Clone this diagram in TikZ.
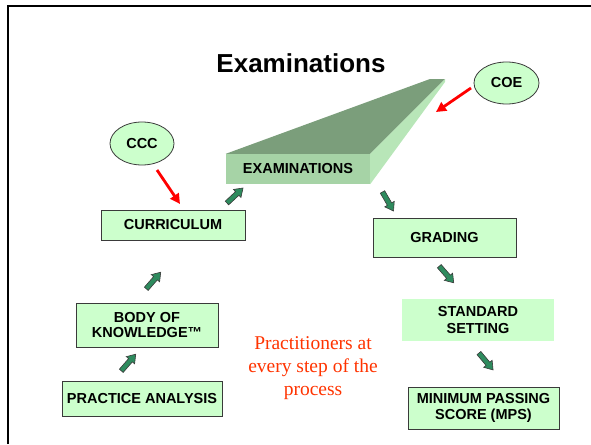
\documentclass[tikz,border=0pt]{standalone}
\usepackage{fontspec}
\setmainfont{Liberation Serif}
\setsansfont{Liberation Sans}
\usetikzlibrary{arrows.meta,shapes.geometric}
\definecolor{boxgreen}{HTML}{CCFFCC}
\definecolor{frontgreen}{HTML}{A6D3A6}
\definecolor{topgreen}{HTML}{7B9E7B}
\definecolor{sidegreen}{HTML}{B8E6B8}
\definecolor{arrowgreen}{HTML}{2E8B5E}
\definecolor{edgegray}{HTML}{3A3A3A}
\definecolor{redtext}{HTML}{FF3300}
\tikzset{
  lbl/.style={font=\sffamily\bfseries\fontsize{14.5}{16.5}\selectfont, align=center, inner sep=0pt},
  greenbox/.style={lbl, rectangle, fill=boxgreen, draw=edgegray, line width=0.8pt},
  plainbox/.style={lbl, rectangle, fill=boxgreen},
  oval/.style={lbl, ellipse, fill=boxgreen, draw=edgegray, line width=0.8pt},
  redarr/.style={draw=red, line width=2.8pt, -{Triangle[length=10pt,width=10pt]}},
  blockarr/.pic={
    \draw[fill=arrowgreen, draw=edgegray, line width=0.6pt, line join=miter]
      (-11,-2.5) -- (3,-2.5) -- (3,-5.5) -- (11,0) -- (3,5.5) -- (3,2.5) -- (-11,2.5) -- cycle;
  }
}
\begin{document}
\begin{tikzpicture}[x=1pt,y=-1pt]
\useasboundingbox (0,0) rectangle (591,444);
% frame
\draw[line width=2.3pt] (8,444) -- (8,6) -- (591,6);
% title
\node[font=\sffamily\bfseries\fontsize{26}{30}\selectfont, anchor=base, inner sep=0pt] (title) at (301,73) {Examinations};
% 3D block
\node[lbl, fill=frontgreen, minimum width=144pt, minimum height=30pt] (exam) at (298,169) {EXAMINATIONS};
\coordinate (backtl) at (430,79);
\coordinate (backtr) at (445,79);
\coordinate (backbr) at (445,82);
\fill[topgreen] (exam.north west) -- (exam.north east) -- (backtr) -- (backtl) -- cycle;
\fill[sidegreen] (exam.north east) -- (backtr) -- (backbr) -- (exam.south east) -- cycle;
% ovals
\node[oval, minimum width=64pt, minimum height=43pt] (ccc) at (142,143.5) {CCC};
\node[oval, minimum width=65pt, minimum height=42pt] (coe) at (506.5,83) {COE};
% boxes
\node[greenbox, minimum width=144pt, minimum height=30pt] (curr) at (173,225) {CURRICULUM};
\node[greenbox, minimum width=142pt, minimum height=44pt, font=\sffamily\bfseries\fontsize{14.5}{14.5}\selectfont] (body) at (147,325) {BODY OF\\KNOWLEDGE™};
\node[greenbox, minimum width=160pt, minimum height=35pt] (prac) at (142,398.5) {PRACTICE ANALYSIS};
\node[greenbox, minimum width=143pt, minimum height=39pt] (grad) at (444.5,237.5) {GRADING};
\node[plainbox, minimum width=152pt, minimum height=42pt] (std) at (478,320) {STANDARD\\SETTING};
\node[greenbox, minimum width=151pt, minimum height=42pt] (mps) at (483.5,408) {MINIMUM PASSING\\SCORE (MPS)};
% red text
\node[font=\rmfamily\fontsize{19.5}{23}\selectfont, text=redtext, align=center, inner sep=0pt] (prac-note) at (313,368.5) {Practitioners at\\every step of the\\process};
% red arrows
\coordinate (r1s) at (157,170);
\coordinate (r1e) at (180,204);
\draw[redarr] (r1s) -- (r1e);
\coordinate (r2s) at (471,88);
\coordinate (r2e) at (436,112);
\draw[redarr] (r2s) -- (r2e);
% block arrows
\coordinate (a1) at (235,195.5);
\coordinate (a2) at (388,201.5);
\coordinate (a3) at (446.5,274.5);
\coordinate (a4) at (486,361.5);
\coordinate (a5) at (153.5,280.5);
\coordinate (a6) at (128.5,362.5);
\pic[rotate=43] at (a1) {blockarr};
\pic[rotate=-60] at (a2) {blockarr};
\pic[rotate=-49] at (a3) {blockarr};
\pic[rotate=-50] at (a4) {blockarr};
\pic[rotate=49] at (a5) {blockarr};
\pic[rotate=49] at (a6) {blockarr};
\end{tikzpicture}
\end{document}
